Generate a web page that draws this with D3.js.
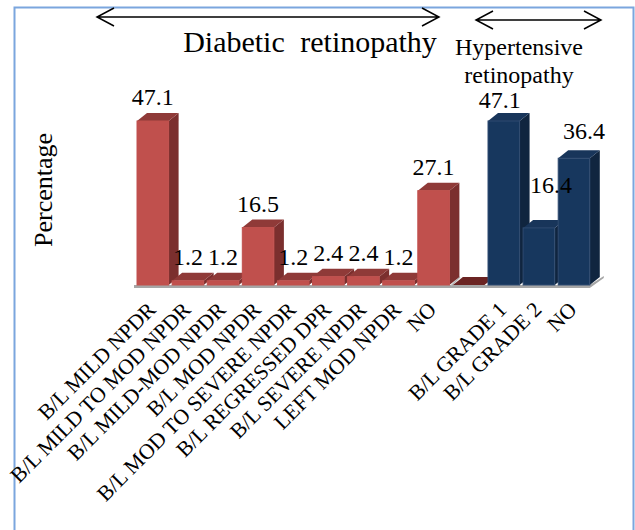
<!DOCTYPE html>
<html>
<head>
<meta charset="utf-8">
<script src="https://cdn.jsdelivr.net/npm/d3@7"></script>
<style>
  html, body { margin: 0; padding: 0; background: #fff; }
  svg { display: block; }
  text { font-family: "Liberation Serif", serif; fill: #000; }
</style>
</head>
<body>
<svg id="chart" width="635" height="530"></svg>
<script>
const categories = ["B/L MILD NPDR", "B/L MILD TO MOD NPDR", "B/L MILD-MOD NPDR", "B/L MOD NPDR",
  "B/L MOD TO SEVERE NPDR", "B/L REGRESSED DPR", "B/L SEVERE NPDR", "LEFT MOD NPDR", "NO", "",
  "B/L GRADE 1", "B/L GRADE 2", "NO"];
const values = [47.1, 1.2, 1.2, 16.5, 1.2, 2.4, 2.4, 1.2, 27.1, 0, 47.1, 16.4, 36.4];
const groups = ["dr", "dr", "dr", "dr", "dr", "dr", "dr", "dr", "dr", "gap", "ht", "ht", "ht"];

const palette = {
  dr: { front: "#c0504d", side: "#7b2f2e", top: "#8f3a38", edge: "#c0504d" },
  gap: { front: "#6b2423", side: "#6b2423", top: "#6b2423", edge: "#6b2423" },
  ht: { front: "#17375e", side: "#10253f", top: "#18355a", edge: "#2f4a70" }
};

const svg = d3.select("#chart");
const depthX = 10, depthY = 8;

const x = d3.scaleBand().domain(d3.range(categories.length)).range([133.5, 593.3]).paddingInner(0.1).paddingOuter(0.1);
const y = d3.scaleLinear().domain([0, 47.1]).range([285, 121]);

// frame (open at the bottom, like the source)
svg.append("path").attr("d", "M14.5,530V7.5H633.5V530")
  .attr("fill", "none").attr("stroke", "#7ba6de").attr("stroke-width", 2);

// floor
svg.append("path")
  .attr("d", `M134,285H${x(12) + x.bandwidth()}l${depthX + 4},-9v2l-${depthX + 4},10H134Z`)
  .attr("fill", "#a6a6a6");
svg.append("path")
  .attr("d", `M${x(9) - 2},286l9,-9`)
  .attr("fill", "none").attr("stroke", "#b5b5b5").attr("stroke-width", 1.5);

const bars = svg.selectAll(".bar").data(values).join("g").attr("class", "bar");

bars.append("path")
  .attr("fill", (d, i) => palette[groups[i]].side)
  .attr("d", (d, i) => {
    const r = x(i) + x.bandwidth();
    return `M${r},${y(d)}l${depthX},-${depthY}V${y(0) - depthY}l-${depthX},${depthY}Z`;
  });

bars.append("path")
  .attr("fill", (d, i) => palette[groups[i]].top)
  .attr("d", (d, i) => `M${x(i)},${y(d)}l${depthX},-${depthY}h${x.bandwidth()}l-${depthX},${depthY}Z`);

bars.append("rect")
  .attr("x", (d, i) => x(i))
  .attr("y", d => y(d))
  .attr("width", x.bandwidth())
  .attr("height", d => y(0) - y(d))
  .attr("fill", (d, i) => palette[groups[i]].front)
  .attr("stroke", (d, i) => palette[groups[i]].edge)
  .attr("stroke-width", 1);

// value labels, the hand-placed ones in the last three columns are nudged
const nudge = { 10: [-4, 3], 11: [12, -19], 12: [10, -3] };
svg.selectAll(".val").data(values).join("text")
  .attr("class", "val")
  .attr("x", (d, i) => x(i) + x.bandwidth() / 2 + (nudge[i] ? nudge[i][0] : 0))
  .attr("y", (d, i) => y(d) - 16 + (nudge[i] ? nudge[i][1] : 0))
  .attr("text-anchor", "middle")
  .attr("font-size", 24)
  .text((d, i) => groups[i] === "gap" ? "" : d);

// category axis
const axis = d3.axisBottom(x).tickSize(0).tickFormat(i => categories[i]);
const axisG = svg.append("g").attr("transform", "translate(0,285)").call(axis);
axisG.select(".domain").remove();
axisG.selectAll("text")
  .attr("font-family", "Liberation Serif")
  .attr("font-size", 21.5)
  .attr("text-anchor", "end")
  .attr("dy", null).attr("y", null)
  .attr("transform", "translate(4,26) rotate(-45)");

// y title
svg.append("text").attr("transform", "translate(52,190) rotate(-90)")
  .attr("text-anchor", "middle").attr("font-size", 26).text("Percentage");

// group annotations
function arrow(x0, x1, yy, head) {
  svg.append("path")
    .attr("d", `M${x0},${yy}H${x1}M${x0 + head},${yy - 9}L${x0},${yy}L${x0 + head},${yy + 9}M${x1 - head},${yy - 9}L${x1},${yy}L${x1 - head},${yy + 9}`)
    .attr("fill", "none").attr("stroke", "#000").attr("stroke-width", 1.5);
}
arrow(97, 439, 17, 17);
arrow(476, 601, 20, 17);

svg.append("text").attr("x", 310).attr("y", 52).attr("text-anchor", "middle")
  .attr("font-size", 30).attr("word-spacing", 8).text("Diabetic retinopathy");
svg.append("text").attr("x", 519).attr("y", 55).attr("text-anchor", "middle")
  .attr("font-size", 24).text("Hypertensive");
svg.append("text").attr("x", 519).attr("y", 83).attr("text-anchor", "middle")
  .attr("font-size", 24).text("retinopathy");
</script>
</body>
</html>
